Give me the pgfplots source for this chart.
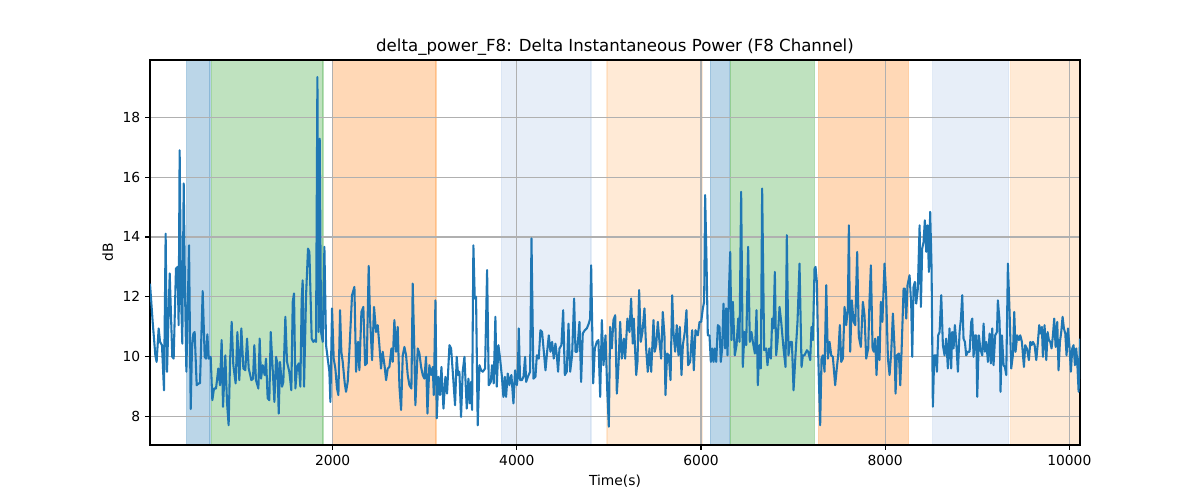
\documentclass[border=0pt]{standalone}
\usepackage{pgfplots}
\pgfplotsset{compat=1.18}
\usepackage{fontspec}
\setmainfont{DejaVu Sans}
\definecolor{tabblue}{HTML}{1F77B4}
\definecolor{tabgreen}{HTML}{2CA02C}
\definecolor{taborange}{HTML}{FF7F0E}
\definecolor{ltblue}{HTML}{AEC7E8}
\definecolor{ltorange}{HTML}{FFBB78}
\definecolor{gridgray}{HTML}{B0B0B0}
\newcommand{\myspan}[3]{\addplot[on layer=axis background, fill=#3, fill opacity=0.3, draw=#3, draw opacity=0.3, line width=1pt] coordinates {(#1,7.04) (#2,7.04) (#2,19.92) (#1,19.92) (#1,7.04)};}
\begin{document}
\begin{tikzpicture}
\begin{axis}[
  at={(0,0)}, anchor=south west,
  scale only axis, width=9.3in, height=3.85in,
  set layers,
  xmin=16, xmax=10116, ymin=7.04, ymax=19.92,
  xtick={2000,4000,6000,8000,10000},
  ytick={8,10,12,14,16,18},
  scaled x ticks=false,
  /pgf/number format/1000 sep={},
  /pgf/number format/assume math mode=true,
  tick label style={font=\fontsize{10}{12}\selectfont},
  label style={font=\fontsize{10}{12}\selectfont},
  title style={font=\fontsize{12}{14}\selectfont, yshift=-6pt},
  title={delta\_power\_F8: Delta Instantaneous Power (F8 Channel)},
  xlabel={Time(s)}, ylabel={dB},
  grid=major,
  major grid style={gridgray, line width=0.8pt},
  tick align=outside, tick pos=left,
  major tick length=3.5pt,
  every tick/.style={black, line width=0.8pt},
  axis line style={line width=0.8pt},
  clip=true,
]
\myspan{414}{668}{tabblue}
\myspan{682}{1896}{tabgreen}
\myspan{2000}{3123}{taborange}
\myspan{3833}{4807}{ltblue}
\myspan{4981}{6009}{ltorange}
\myspan{6103}{6310}{tabblue}
\myspan{6317}{7230}{tabgreen}
\myspan{7277}{8251}{taborange}
\myspan{8515}{9341}{ltblue}
\myspan{9362}{10116}{ltorange}
\addplot[tabblue, line width=1.5pt, line join=round] coordinates {
(16,12.44) (45,11.16) (74,10.04) (88,9.82) (110,10.94) (125,10.49) (146,10.38) (168,8.87) (186,14.11) (201,9.49)
(230,12.78) (258,9.99) (273,9.93) (298,12.94) (316,13.00) (327,11.05) (338,16.90) (353,12.05) (367,10.43) (382,15.79)
(396,12.27) (411,9.49) (440,13.72) (458,8.24) (472,10.27) (487,10.77) (501,10.82) (523,9.04) (545,9.10) (559,9.10)
(588,12.19) (610,9.99) (624,9.93) (639,10.74) (653,9.93) (675,9.99) (693,8.54) (711,8.93) (733,8.93) (758,9.60)
(776,9.04) (794,10.55) (809,8.32) (834,10.04) (852,8.48) (870,7.70) (885,9.82) (903,11.16) (921,9.71) (946,9.10)
(965,10.82) (986,9.21) (1008,10.94) (1030,9.60) (1051,9.54) (1070,10.60) (1088,9.60) (1117,9.21) (1135,9.26) (1149,10.38)
(1167,9.21) (1193,8.93) (1207,10.60) (1222,9.26) (1240,9.71) (1261,9.38) (1276,9.93) (1294,8.60) (1312,8.54) (1327,10.82)
(1348,9.60) (1367,8.48) (1385,9.99) (1399,9.77) (1414,8.09) (1428,9.82) (1450,8.99) (1464,9.15) (1486,11.33) (1504,9.82)
(1529,9.49) (1551,8.87) (1566,11.83) (1580,12.11) (1595,8.93) (1613,9.65) (1631,9.77) (1649,8.99) (1663,11.88) (1674,12.55)
(1689,8.99) (1711,12.05) (1732,13.61) (1747,13.50) (1772,10.60) (1790,10.49) (1808,10.55) (1819,10.49) (1834,19.35) (1848,10.82)
(1859,17.29) (1874,10.82) (1892,10.49) (1910,13.67) (1928,10.38) (1946,9.93) (1964,9.49) (1975,8.48) (1993,11.61) (2011,9.93)
(2029,9.60) (2047,8.93) (2062,8.71) (2080,11.55) (2094,10.16) (2109,9.82) (2131,9.10) (2145,8.82) (2163,9.15) (2181,10.16)
(2210,12.05) (2236,12.33) (2254,9.49) (2276,10.49) (2290,9.54) (2312,11.49) (2333,11.66) (2352,9.71) (2370,9.77) (2391,13.03)
(2406,11.27) (2428,9.88) (2449,11.66) (2471,10.82) (2489,11.05) (2507,10.38) (2525,9.60) (2543,10.16) (2565,9.65) (2580,9.21)
(2598,9.60) (2616,9.65) (2638,10.27) (2652,9.82) (2670,11.22) (2688,10.16) (2706,10.99) (2725,8.99) (2743,8.21) (2761,10.04)
(2779,10.32) (2797,10.04) (2815,9.38) (2833,9.04) (2855,8.93) (2869,12.44) (2887,10.16) (2898,8.37) (2924,10.27) (2942,10.10)
(2960,9.65) (2978,9.38) (2996,9.26) (3014,9.99) (3029,8.09) (3050,9.71) (3069,9.38) (3087,9.65) (3098,8.71) (3116,11.88)
(3130,7.93) (3148,9.32) (3166,8.71) (3181,9.65) (3203,8.26) (3224,9.32) (3242,8.76) (3268,10.38) (3286,10.27) (3304,9.49)
(3329,8.37) (3347,9.99) (3362,9.38) (3376,9.49) (3394,7.98) (3412,9.49) (3431,9.99) (3456,8.26) (3474,9.26) (3489,8.43)
(3503,9.15) (3514,8.21) (3528,13.72) (3543,11.94) (3557,12.00) (3575,7.70) (3594,9.71) (3612,9.54) (3630,9.49) (3655,9.60)
(3677,12.89) (3695,9.04) (3717,9.15) (3731,9.71) (3749,9.10) (3767,11.33) (3782,8.99) (3800,10.38) (3818,9.93) (3836,9.38)
(3854,8.65) (3869,9.32) (3883,8.65) (3901,9.43) (3919,9.04) (3927,9.26) (3941,9.38) (3963,8.43) (3981,9.54) (4000,9.04)
(4010,9.32) (4021,10.94) (4035,9.21) (4054,9.21) (4072,9.32) (4090,9.99) (4101,9.15) (4119,9.32) (4144,9.49) (4159,13.95)
(4180,9.26) (4202,9.32) (4217,10.04) (4238,9.93) (4256,10.88) (4274,10.82) (4293,10.16) (4311,9.54) (4329,10.16) (4347,10.71)
(4365,10.16) (4383,10.49) (4401,9.93) (4419,10.43) (4434,10.04) (4448,9.49) (4463,10.27) (4484,10.38) (4503,11.55) (4521,9.38)
(4542,9.49) (4561,11.10) (4579,9.49) (4600,10.04) (4622,11.94) (4637,10.16) (4655,10.16) (4680,11.16) (4698,9.15) (4716,10.77)
(4738,10.88) (4760,10.94) (4781,11.10) (4796,11.27) (4807,13.05) (4829,9.10) (4847,10.27) (4868,10.49) (4886,10.55) (4905,8.65)
(4923,11.22) (4941,9.71) (4963,10.71) (4981,8.93) (4999,7.65) (5013,10.99) (5031,10.27) (5049,11.22) (5068,11.38) (5086,8.76)
(5104,9.71) (5122,11.16) (5140,9.93) (5162,10.60) (5176,9.93) (5201,11.27) (5223,10.82) (5241,11.94) (5259,10.43) (5270,11.27)
(5296,9.38) (5310,9.82) (5328,12.22) (5346,10.49) (5364,10.82) (5386,11.61) (5404,10.27) (5422,9.49) (5440,10.27) (5459,9.49)
(5484,11.22) (5498,10.16) (5513,10.38) (5531,11.16) (5549,10.49) (5567,9.93) (5585,11.49) (5603,10.71) (5614,8.71) (5632,10.10)
(5650,10.04) (5669,9.21) (5687,12.05) (5701,10.82) (5719,10.16) (5737,11.05) (5755,10.04) (5770,10.99) (5788,9.38) (5803,10.38)
(5824,10.82) (5842,11.55) (5860,9.71) (5882,9.82) (5904,10.88) (5922,9.54) (5940,10.88) (5966,10.71) (5984,11.16) (6002,11.16)
(6020,11.61) (6034,11.83) (6045,15.40) (6060,13.17) (6074,10.71) (6092,10.71) (6107,9.82) (6121,10.27) (6136,9.82) (6150,10.27)
(6165,9.82) (6183,11.05) (6201,10.99) (6215,9.82) (6230,10.27) (6244,11.77) (6262,10.27) (6273,11.61) (6288,10.04) (6302,12.05)
(6317,13.50) (6331,10.55) (6346,11.83) (6367,10.04) (6386,10.38) (6404,11.27) (6418,10.49) (6436,15.51) (6454,9.65) (6472,10.82)
(6491,10.38) (6512,13.67) (6530,10.49) (6548,10.82) (6563,10.49) (6585,10.10) (6603,11.55) (6617,9.04) (6635,10.38) (6650,9.60)
(6664,15.62) (6686,10.21) (6708,10.27) (6722,9.71) (6740,10.27) (6759,9.93) (6773,11.27) (6787,10.94) (6802,12.83) (6816,10.04)
(6831,10.49) (6853,11.66) (6871,11.16) (6896,10.27) (6918,9.65) (6932,14.06) (6950,10.04) (6969,10.49) (6987,10.49) (7005,8.87)
(7026,10.04) (7048,11.16) (7070,13.11) (7092,9.65) (7106,10.04) (7124,10.04) (7150,10.21) (7164,10.16) (7186,9.88) (7200,10.99)
(7215,10.55) (7233,12.94) (7244,13.00) (7258,12.50) (7273,10.04) (7294,7.70) (7309,9.93) (7323,10.04) (7342,9.49) (7360,12.39)
(7378,9.93) (7396,10.49) (7414,10.04) (7432,9.99) (7457,9.04) (7476,9.65) (7490,10.04) (7508,11.05) (7523,9.82) (7541,9.93)
(7559,11.66) (7577,11.05) (7595,11.61) (7606,14.39) (7620,10.16) (7638,11.88) (7657,11.16) (7675,11.05) (7696,13.50) (7714,10.66)
(7736,10.32) (7758,11.83) (7776,11.38) (7794,9.93) (7816,10.27) (7830,11.88) (7845,13.05) (7863,10.27) (7877,10.16) (7892,10.60)
(7906,9.38) (7924,10.66) (7939,9.88) (7953,11.83) (7970,11.16) (7993,13.11) (8011,12.05) (8030,9.93) (8048,9.38) (8066,10.16)
(8084,11.44) (8102,10.27) (8113,8.76) (8127,10.04) (8149,10.10) (8164,9.04) (8178,10.16) (8200,12.27) (8214,12.27) (8229,11.27)
(8243,12.39) (8265,12.72) (8283,11.72) (8294,9.99) (8308,12.33) (8323,12.50) (8337,11.77) (8355,12.27) (8374,14.39) (8388,11.66)
(8402,13.61) (8417,13.83) (8431,14.56) (8446,13.50) (8460,14.39) (8475,12.83) (8489,14.84) (8504,12.94) (8518,8.32) (8533,10.04)
(8547,10.04) (8562,9.49) (8576,10.71) (8591,10.82) (8609,12.05) (8627,10.38) (8645,10.04) (8663,10.60) (8681,9.60) (8699,10.94)
(8717,9.60) (8728,10.82) (8743,10.27) (8757,11.05) (8772,10.49) (8790,9.49) (8808,10.82) (8823,11.27) (8837,12.05) (8851,10.60)
(8866,10.49) (8880,10.04) (8899,10.16) (8917,10.16) (8935,11.16) (8946,11.27) (8960,9.99) (8975,10.71) (8989,10.71) (9000,8.65)
(9018,10.71) (9033,10.27) (9054,10.04) (9069,11.10) (9083,10.16) (9098,10.49) (9116,9.82) (9134,10.77) (9148,9.77) (9163,10.94)
(9177,9.71) (9195,10.71) (9214,10.82) (9224,11.88) (9243,11.16) (9253,8.82) (9268,10.71) (9286,9.71) (9300,9.65) (9315,9.38)
(9333,13.11) (9351,11.49) (9369,9.60) (9387,10.04) (9402,11.49) (9416,10.16) (9434,10.71) (9453,10.55) (9467,10.71) (9485,10.49)
(9507,9.65) (9521,10.38) (9539,10.27) (9561,9.88) (9576,10.49) (9590,10.38) (9605,10.49) (9623,10.38) (9641,9.88) (9659,10.49)
(9673,11.05) (9688,10.77) (9702,10.99) (9713,9.99) (9731,11.05) (9750,9.88) (9764,10.82) (9778,10.55) (9793,10.49) (9807,10.27)
(9822,10.71) (9836,11.27) (9851,10.32) (9869,11.16) (9883,9.54) (9898,10.49) (9912,10.82) (9927,11.33) (9941,10.94) (9956,10.77)
(9970,10.04) (9985,10.94) (10003,10.27) (10017,9.49) (10032,10.27) (10046,10.38) (10061,9.71) (10075,10.27) (10086,9.82) (10101,8.82)
(10116,10.60)
};
\end{axis}
\pgfresetboundingbox
\path[use as bounding box] (-1.5in,-0.55in) rectangle (10.5in,4.45in);
\end{tikzpicture}
\end{document}
